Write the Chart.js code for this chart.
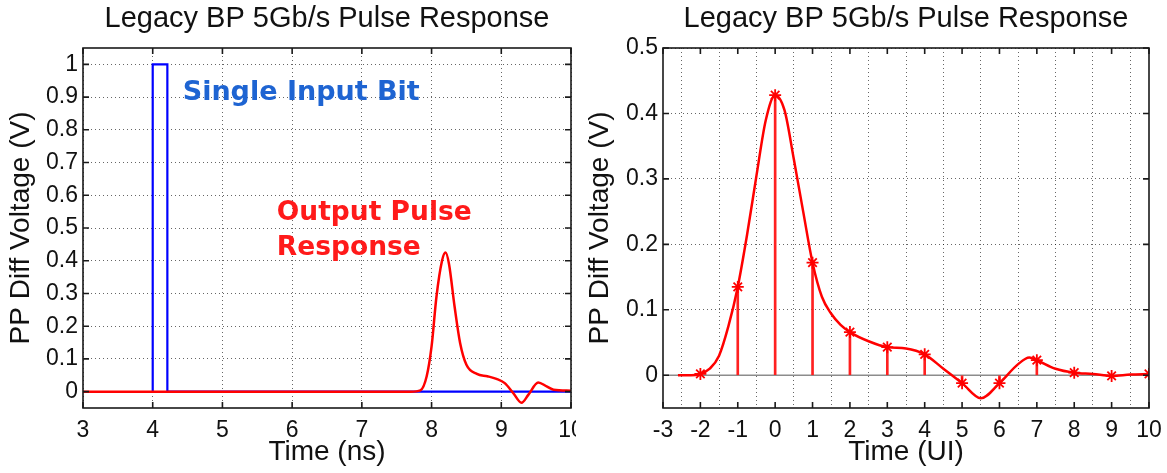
<!DOCTYPE html>
<html>
<head>
<meta charset="utf-8">
<script src="https://cdn.jsdelivr.net/npm/chart.js@4.4.1/dist/chart.umd.min.js"></script>
<style>
  html, body { margin: 0; padding: 0; background: #fff; }
  #wrap { position: relative; width: 1167px; height: 473px; overflow: hidden; }
  #leftBox { position: absolute; left: 0; top: 0; width: 576px; height: 473px; }
  #rightBox { position: absolute; left: 576px; top: 0; width: 591px; height: 473px; }
</style>
</head>
<body>
<div id="wrap">
  <div id="leftBox"><canvas id="nsChart" width="576" height="473"></canvas></div>
  <div id="rightBox"><canvas id="uiChart" width="591" height="473"></canvas></div>
</div>
<script>
// ---- data: left plot (time in ns) ----
const inputBitT = [4, 4, 4.21, 4.21, 10];
const inputBitV = [0, 1, 1, 0, 0];

const outputT = [3, 7.7, 7.84, 7.93, 8.0, 8.07, 8.15, 8.2, 8.25, 8.33, 8.41, 8.5, 8.65, 8.8, 8.93, 9.05, 9.17, 9.29, 9.39, 9.53, 9.65, 9.75, 10];
const outputV = [0, 0, 0.004, 0.047, 0.138, 0.29, 0.4, 0.425, 0.39, 0.26, 0.148, 0.082, 0.054, 0.047, 0.039, 0.026, -0.004, -0.034, -0.009, 0.028, 0.016, 0.006, 0.003];

const nsTicks = [3, 4, 5, 6, 7, 8, 9, 10];
const nsVoltTicks = [0, 0.1, 0.2, 0.3, 0.4, 0.5, 0.6, 0.7, 0.8, 0.9, 1];

// ---- data: right plot (time in UI) ----
const curveUI = [-2.6, -2.25, -2, -1.75, -1.5, -1.25, -1, -0.75, -0.5, -0.25, 0, 0.25, 0.5, 0.75, 1, 1.25, 1.5, 1.75, 2, 2.5, 3, 3.5, 4, 4.5, 5, 5.5, 6, 6.5, 6.8, 7, 7.5, 8, 8.5, 9, 9.5, 10];
const curveV = [0, 0, 0.002, 0.01, 0.03, 0.075, 0.135, 0.215, 0.305, 0.39, 0.428, 0.405, 0.33, 0.25, 0.172, 0.12, 0.094, 0.077, 0.066, 0.052, 0.043, 0.041, 0.032, 0.01, -0.012, -0.035, -0.012, 0.017, 0.027, 0.023, 0.01, 0.004, 0.002, -0.001, 0.001, 0.002];

const sampleUI = [-2, -1, 0, 1, 2, 3, 4, 5, 6, 7, 8, 9, 10];
const sampleV = [0.002, 0.135, 0.428, 0.172, 0.066, 0.043, 0.032, -0.012, -0.012, 0.023, 0.004, -0.001, 0.002];

const uiTicks = [-3, -2, -1, 0, 1, 2, 3, 4, 5, 6, 7, 8, 9, 10];
const uiVoltTicks = [0, 0.1, 0.2, 0.3, 0.4, 0.5];

const titleText = 'Legacy BP 5Gb/s Pulse Response';
const yTitle = 'PP Diff Voltage (V)';

const pts = (xs, ys) => xs.map((x, i) => ({x: x, y: ys[i]}));

const FONT = "'Liberation Sans', Arial, sans-serif";

// box around the plot area with inward tick marks, like the original figure
const framePlugin = {
  id: 'frame',
  afterDatasetsDraw(chart) {
    const {ctx, chartArea: a, scales} = chart;
    const x = scales.x, y = scales.y;
    ctx.save();
    ctx.strokeStyle = '#1a1a1a';
    ctx.lineWidth = 1.6;
    ctx.strokeRect(a.left, a.top, a.right - a.left, a.bottom - a.top);
    ctx.beginPath();
    x.ticks.forEach(t => {
      const p = x.getPixelForValue(t.value);
      ctx.moveTo(p, a.bottom); ctx.lineTo(p, a.bottom - 6);
      ctx.moveTo(p, a.top); ctx.lineTo(p, a.top + 6);
    });
    y.ticks.forEach(t => {
      const p = y.getPixelForValue(t.value);
      ctx.moveTo(a.left, p); ctx.lineTo(a.left + 6, p);
      ctx.moveTo(a.right, p); ctx.lineTo(a.right - 6, p);
    });
    ctx.stroke();
    ctx.restore();
  }
};

// text callouts placed in data coordinates
const callouts = [
  {text: 'Single Input Bit', x: 4.43, y: 0.912, color: '#1e64d2', size: 27},
  {text: 'Output Pulse', x: 5.78, y: 0.547, color: '#ff1a1a', size: 26.5},
  {text: 'Response', x: 5.78, y: 0.44, color: '#ff1a1a', size: 26.5}
];
const calloutPlugin = {
  id: 'callouts',
  afterDatasetsDraw(chart) {
    const {ctx, scales: {x, y}} = chart;
    ctx.save();
    ctx.textBaseline = 'middle';
    ctx.textAlign = 'left';
    callouts.forEach(c => {
      ctx.font = 'bold ' + c.size + "px 'DejaVu Sans', Verdana, sans-serif";
      ctx.fillStyle = c.color;
      ctx.fillText(c.text, x.getPixelForValue(c.x), y.getPixelForValue(c.y));
    });
    ctx.restore();
  }
};

function tidy(v) { return String(+Number(v).toFixed(2)); }

function axes(xMin, xMax, xTicks, yMin, yMax, yTicks, xLabel, yAxisWidth, yTitlePad) {
  const grid = {color: 'rgba(0,0,0,0.6)', lineWidth: 1, drawTicks: false};
  return {
    x: {
      type: 'linear', min: xMin, max: xMax, offset: false,
      afterBuildTicks: s => { s.ticks = xTicks.map(v => ({value: v})); },
      afterFit: s => { s.height = 65; s.paddingLeft = 0; s.paddingRight = 0; },
      grid: grid,
      border: {display: false, dash: [1, 3]},
      ticks: {padding: 9, color: '#111', font: {family: FONT, size: 23}, callback: tidy, maxRotation: 0, autoSkip: false},
      title: {display: true, text: xLabel, color: '#111', font: {family: FONT, size: 28}, padding: {top: 0, bottom: 4}}
    },
    y: {
      type: 'linear', min: yMin, max: yMax,
      afterBuildTicks: s => { s.ticks = yTicks.map(v => ({value: v})); },
      afterFit: s => { s.width = yAxisWidth; s.paddingTop = 0; s.paddingBottom = 0; },
      grid: grid,
      border: {display: false, dash: [1, 3]},
      ticks: {padding: 5, color: '#111', font: {family: FONT, size: 23}, callback: tidy, autoSkip: false},
      title: {display: true, text: yTitle, color: '#111', font: {family: FONT, size: 28}, padding: {top: yTitlePad, bottom: 0}}
    }
  };
}

function baseOptions(scales, padRight) {
  return {
    responsive: false,
    animation: false,
    layout: {padding: {left: 0, right: padRight, top: 0, bottom: 0}, autoPadding: false},
    plugins: {
      legend: {display: false},
      tooltip: {enabled: false},
      title: {
        display: true, text: titleText, fullSize: false, color: '#111',
        font: {family: FONT, size: 29, weight: 'normal'},
        padding: {top: 2, bottom: 11.2}
      }
    },
    scales: scales
  };
}

// Left: input bit and output pulse vs time in ns
new Chart(document.getElementById('nsChart').getContext('2d'), {
  type: 'line',
  data: {
    datasets: [
      {
        label: 'Output Pulse Response',
        data: pts(outputT, outputV),
        borderColor: '#ff0000', borderWidth: 2.5,
        pointRadius: 0, tension: 0.35, cubicInterpolationMode: 'monotone'
      },
      {
        label: 'Single Input Bit',
        data: pts(inputBitT, inputBitV),
        borderColor: '#0000ff', borderWidth: 2.2,
        pointRadius: 0, tension: 0
      }
    ]
  },
  options: baseOptions(axes(3, 10, nsTicks, -0.05, 1.05, nsVoltTicks, 'Time (ns)', 83, 4), 5),
  plugins: [framePlugin, calloutPlugin]
});

// Right: pulse response vs time in UI with the sampled cursors
new Chart(document.getElementById('uiChart').getContext('2d'), {
  type: 'line',
  data: {
    datasets: [
      {
        type: 'scatter',
        label: 'Samples',
        data: pts(sampleUI, sampleV),
        pointStyle: 'star', pointRadius: 6, borderColor: '#ff0000', borderWidth: 1.8,
        backgroundColor: '#ff0000', showLine: false
      },
      {
        label: 'Pulse',
        data: pts(curveUI, curveV),
        borderColor: '#ff0000', borderWidth: 2.5,
        pointRadius: 0, tension: 0.4, cubicInterpolationMode: 'monotone'
      },
      {
        type: 'bar',
        label: 'Stems',
        data: pts(sampleUI, sampleV),
        backgroundColor: '#ff2020', barThickness: 2, borderWidth: 0
      },
      {
        label: 'Zero',
        data: pts([-3, 10], [0, 0]),
        borderColor: '#8c8c8c', borderWidth: 1.5, pointRadius: 0
      }
    ]
  },
  options: baseOptions(axes(-3, 10, uiTicks, -0.05, 0.5, uiVoltTicks, 'Time (UI)', 87, 7), 18),
  plugins: [framePlugin]
});
</script>
</body>
</html>
